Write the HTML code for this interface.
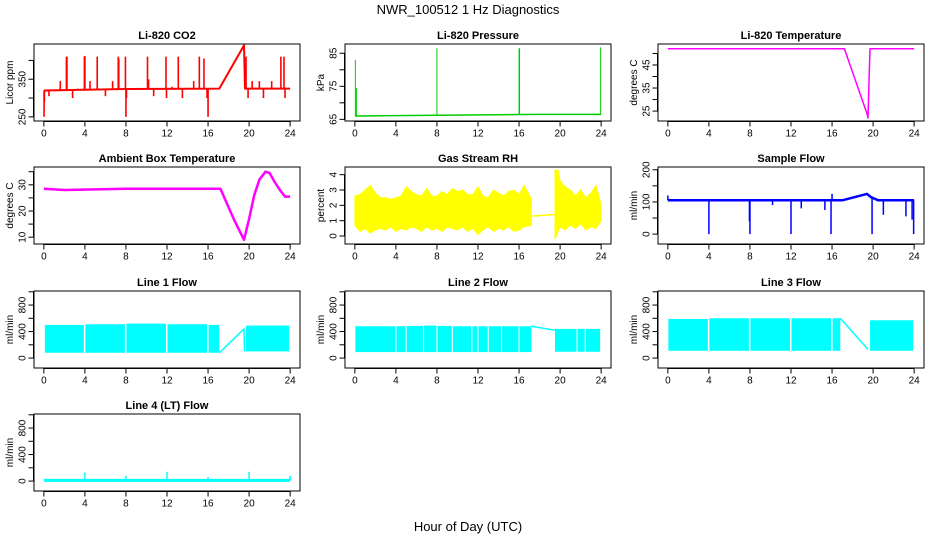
<!DOCTYPE html>
<html><head><meta charset="utf-8"><style>
html,body{margin:0;padding:0;background:#fff;}
svg{display:block;font-family:"Liberation Sans",Arial,sans-serif;}
.tk{font-size:10px;fill:#000;}
.pt{font-size:11px;font-weight:bold;fill:#000;}
</style></head><body>
<svg id="c" width="936" height="540" viewBox="0 0 936 540" xmlns="http://www.w3.org/2000/svg">
<text x="468" y="14" text-anchor="middle" font-size="13">NWR_100512  1 Hz Diagnostics</text>
<text x="468" y="531" text-anchor="middle" font-size="13">Hour of Day (UTC)</text>
</svg>
<script>
// ---- data ----
var xTicks=[0,4,8,12,16,20,24];
var co2BaseT=[0,8,17.1,19.5,19.6,24];
var co2BaseV=[320,324,325,440,325,325];
var co2SpikeT=[0.02,0.05,0.5,1.6,2.2,2.25,2.8,3.3,3.95,4.0,4.5,5.2,6.0,6.7,7.25,7.3,7.95,8.0,8.05,10.1,10.2,10.7,11.9,11.95,12.5,13.1,13.5,14.6,15.15,15.6,15.9,16.0,19.7,19.9,20.3,21.0,21.4,22.2,23.1,23.4,23.5];
var co2SpikeV=[250,290,305,345,410,410,300,325,410,412,345,410,305,345,410,405,410,250,300,410,350,305,410,300,330,410,300,345,410,405,300,250,410,300,345,345,300,345,410,410,300];
var presBaseT=[0,0.1,17.8,24];
var presBaseV=[66,66,66.5,66.5];
var presSpikeT=[0.05,0.15,8,16,16.05,23.95];
var presSpikeV=[83,74.5,86.5,86.5,86.5,86.8];
var ltempT=[0,17.2,19.4,19.5,19.6,19.7,24];
var ltempV=[52,52,24,22,38,52,52];
var ambT=[0,2,8,14,17.2,18.5,19.5,20,20.5,21,21.6,22,22.5,23,23.5,24];
var ambV=[28.5,28,28.5,28.5,28.5,17,9,17,26,32,35,34.5,31,28,25.5,25.5];
var rhT=[0,0.5,1,1.5,2,2.5,3,3.5,4,4.5,5,5.5,6,6.5,7,7.5,8,8.5,9,9.5,10,10.5,11,11.5,12,12.5,13,13.5,14,14.5,15,15.5,16,16.5,17.2];
var rhLo=[0.7,0.3,0.5,0.2,0.4,0.5,0.4,0.6,0.3,0.5,0.4,0.6,0.5,0.3,0.6,0.4,0.5,0.3,0.6,0.5,0.4,0.6,0.3,0.5,0.1,0.4,0.6,0.3,0.5,0.4,0.6,0.3,0.4,0.6,0.7];
var rhHi=[2.6,2.7,3.0,3.3,2.8,2.5,2.5,2.4,2.5,2.6,3.2,2.9,2.7,2.6,3.1,2.6,2.6,2.9,2.7,3.1,2.9,3.0,2.7,2.7,3.2,2.6,2.5,3.0,2.8,2.6,2.9,3.0,2.7,3.3,2.4];
var rhMidT=[17.2,18.5,19.5];
var rhMidV=[1.3,1.35,1.4];
var rh2T=[19.5,19.8,20,20.5,21,21.5,22,22.5,23,23.5,24];
var rh2Lo=[-0.2,0.3,0.6,0.4,0.7,0.5,0.8,0.4,0.6,0.5,1.0];
var rh2Hi=[4.3,4.3,3.6,3.2,3.0,2.6,3.0,2.5,2.8,3.3,2.0];
var sfBaseT=[0,17,19.4,19.8,20.5,24];
var sfBaseV=[105,105,125,115,105,105];
var sfSpikeT=[0,4,7.95,8,10.2,12,13,15.3,15.9,16,19.9,21,23.2,23.8,23.95];
var sfSpikeV=[120,0,40,0,90,0,80,75,0,125,0,60,55,45,0];
var l1Start=[0.1,4.05,8.05,12.05,16.05,19.7];
var l1End=[3.9,7.9,11.9,15.9,17.1,23.9];
var l1Lo=[80,80,80,80,80,100];
var l1Hi=[500,510,520,510,500,490];
var l1RampT=[17.1,19.5,19.55];
var l1RampV=[80,440,100];
var l2Start=[0.05,4.05,5.05,6.75,8.05,9.55,11.45,12.05,13.05,14.35,16.05,19.5,21.7,22.5];
var l2End=[3.95,4.95,6.65,7.95,9.45,11.35,11.95,12.95,14.25,15.95,17.2,21.6,22.4,23.9];
var l2Lo=[90,90,90,90,90,90,90,90,90,90,90,95,95,95];
var l2Hi=[480,480,485,490,485,480,480,480,480,480,480,440,440,440];
var l2RampT=[17.2,19.5];
var l2RampV=[480,420];
var l3Start=[0.05,4.05,8.05,12.05,16.05,19.7];
var l3End=[3.9,7.9,11.9,15.9,16.8,23.9];
var l3Lo=[110,110,110,110,110,110];
var l3Hi=[590,600,600,600,600,570];
var l3RampT=[16.8,19.5];
var l3RampV=[600,130];
var l4BaseT=[0,24];
var l4BaseV=[10,10];
var l4SpikeT=[4,8,12,16,20,24];
var l4SpikeV=[130,80,140,60,140,80];

// ---- layout ----
var svg=document.getElementById('c');
var NS='http://www.w3.org/2000/svg';
var colL=[34,345,658], rowT=[44,167,291,414], PW=266, PH=77;
function mk(tag,attrs,parent){var e=document.createElementNS(NS,tag);for(var k in attrs)e.setAttribute(k,attrs[k]);(parent||svg).appendChild(e);return e;}
function panel(col,row,title,ylab,ymin,ymax,yTicks,yLabels,name){
  var L=colL[col],T=rowT[row];
  var g=mk('g',{});
  
  
  var p={g:g,L:L,T:T,
    x:function(t){return L+(t+0.96)/25.92*PW;},
    y:function(v){return T+PH-(v-ymin)/(ymax-ymin)*PH;}};
  var clip=mk('clipPath',{id:'cl'+name},g);mk('rect',{x:L,y:T,width:PW,height:PH},clip);
  p.d=mk('g',{'clip-path':'url(#cl'+name+')'},g);
  var box=mk('rect',{x:L,y:T,width:PW,height:PH,fill:'none',stroke:'#000','stroke-width':1},g);
  
  
  var tt=mk('text',{x:L+PW/2,y:T-5,'text-anchor':'middle','class':'pt'},g);tt.textContent=title;
  
  
  var B=T+PH+0.5;
  mk('line',{x1:p.x(0),x2:p.x(24),y1:B,y2:B,stroke:'#000'},g);
  xTicks.forEach(function(t){
    mk('line',{x1:p.x(t),x2:p.x(t),y1:B,y2:B+5,stroke:'#000'},g);
    var tx=mk('text',{x:p.x(t),y:B+15,'text-anchor':'middle','class':'tk'},g);tx.textContent=t;
    
    
  });
  var AX=L-0.5;
  mk('line',{x1:AX,x2:AX,y1:p.y(yTicks[0]),y2:p.y(yTicks[yTicks.length-1]),stroke:'#000'},g);
  yTicks.forEach(function(v){mk('line',{x1:AX-5,x2:AX,y1:p.y(v),y2:p.y(v),stroke:'#000'},g);});
  yLabels.forEach(function(v){
    var yy=p.y(v);
    var tx=mk('text',{x:0,y:0,'text-anchor':'middle','class':'tk',transform:'translate('+(AX-8)+','+yy+') rotate(-90)'},g);tx.textContent=v;
    
    
  });
  var yl=mk('text',{x:0,y:0,'text-anchor':'middle','class':'tk',transform:'translate('+(L-21)+','+(T+PH/2)+') rotate(-90)'},g);yl.textContent=ylab;
  
  
  return p;
}
function interp(T,V,t){for(var i=0;i<T.length-1;i++){if(t>=T[i]&&t<=T[i+1]){var f=(t-T[i])/((T[i+1]-T[i])||1);return V[i]+f*(V[i+1]-V[i]);}}return V[V.length-1];}
function line(p,T,V,col,w,name){var s='';for(var i=0;i<T.length;i++)s+=(i?'L':'M')+p.x(T[i]).toFixed(1)+','+p.y(V[i]).toFixed(1);
  var e=mk('path',{d:s,fill:'none',stroke:col,'stroke-width':w,'stroke-linejoin':'round'},p.d);
  
  }
function spikes(p,BT,BV,ST,SV,col,w,name){for(var i=0;i<ST.length;i++){var b=interp(BT,BV,ST[i]);
  var e=mk('line',{x1:p.x(ST[i]),x2:p.x(ST[i]),y1:p.y(b),y2:p.y(SV[i]),stroke:col,'stroke-width':w},p.d);
  
  }}
function band(p,T,Lo,Hi,col,name){var s='';for(var i=0;i<T.length;i++)s+=(i?'L':'M')+p.x(T[i]).toFixed(1)+','+p.y(Hi[i]).toFixed(1);
  for(var j=T.length-1;j>=0;j--)s+='L'+p.x(T[j]).toFixed(1)+','+p.y(Lo[j]).toFixed(1);
  var e=mk('path',{d:s+'Z',fill:col,stroke:col,'stroke-width':1},p.d);
  
  }
function blocks(p,S,E,Lo,Hi,col,name){for(var i=0;i<S.length;i++){
  var e=mk('rect',{x:p.x(S[i]),y:p.y(Hi[i]),width:p.x(E[i])-p.x(S[i]),height:p.y(Lo[i])-p.y(Hi[i]),fill:col},p.d);
  
  }}

var RED='#ff0000',GRN='#00cc00',MAG='#ff00ff',YEL='#ffff00',BLU='#0000ff',CY='#00ffff';
var p;
p=panel(0,0,'Li-820 CO2','Licor ppm',239,443.6,[250,300,350,400],[250,350],'co2');
spikes(p,co2BaseT,co2BaseV,co2SpikeT,co2SpikeV,RED,1.6,'co2-spike');
line(p,co2BaseT,co2BaseV,RED,2,'co2-line');
p=panel(1,0,'Li-820 Pressure','kPa',64.5,87.8,[65,70,75,80,85],[65,75,85],'pressure');
spikes(p,presBaseT,presBaseV,presSpikeT,presSpikeV,GRN,1,'pressure-spike');
line(p,presBaseT,presBaseV,GRN,1.5,'pressure-line');
p=panel(2,0,'Li-820 Temperature','degrees C',20.7,54.1,[25,30,35,40,45,50],[25,35,45],'li820-temp');
line(p,ltempT,ltempV,MAG,1.5,'li820-temp-line');
p=panel(0,1,'Ambient Box Temperature','degrees C',7.4,36.8,[10,15,20,25,30,35],[10,20,30],'ambient');
line(p,ambT,ambV,MAG,2.5,'ambient-line');
p=panel(1,1,'Gas Stream RH','percent',-0.52,4.5,[0,1,2,3,4],[0,1,2,3,4],'rh');
band(p,rhT,rhLo,rhHi,YEL,'rh-band');
line(p,rhMidT,rhMidV,YEL,1.5,'rh-gap-line');
band(p,rh2T,rh2Lo,rh2Hi,YEL,'rh-band-2');
p=panel(2,1,'Sample Flow','ml/min',-30.7,208.5,[0,50,100,150,200],[0,100,200],'sample-flow');
spikes(p,sfBaseT,sfBaseV,sfSpikeT,sfSpikeV,BLU,1.5,'sample-flow-spike');
line(p,sfBaseT,sfBaseV,BLU,2.5,'sample-flow-line');
var fT=[0,200,400,600,800,1000],fL=[0,400,800];
p=panel(0,2,'Line 1 Flow','ml/min',-150,1012,fT,fL,'line1');
blocks(p,l1Start,l1End,l1Lo,l1Hi,CY,'line1-block');line(p,l1RampT,l1RampV,CY,1.5,'line1-ramp');
p=panel(1,2,'Line 2 Flow','ml/min',-150,1012,fT,fL,'line2');
blocks(p,l2Start,l2End,l2Lo,l2Hi,CY,'line2-block');line(p,l2RampT,l2RampV,CY,1.5,'line2-ramp');
p=panel(2,2,'Line 3 Flow','ml/min',-150,1012,fT,fL,'line3');
blocks(p,l3Start,l3End,l3Lo,l3Hi,CY,'line3-block');line(p,l3RampT,l3RampV,CY,1.5,'line3-ramp');
p=panel(0,3,'Line 4 (LT) Flow','ml/min',-150,1012,fT,fL,'line4');
spikes(p,l4BaseT,l4BaseV,l4SpikeT,l4SpikeV,CY,1.5,'line4-spike');
line(p,l4BaseT,l4BaseV,CY,3,'line4-line');
</script>
</body></html>
